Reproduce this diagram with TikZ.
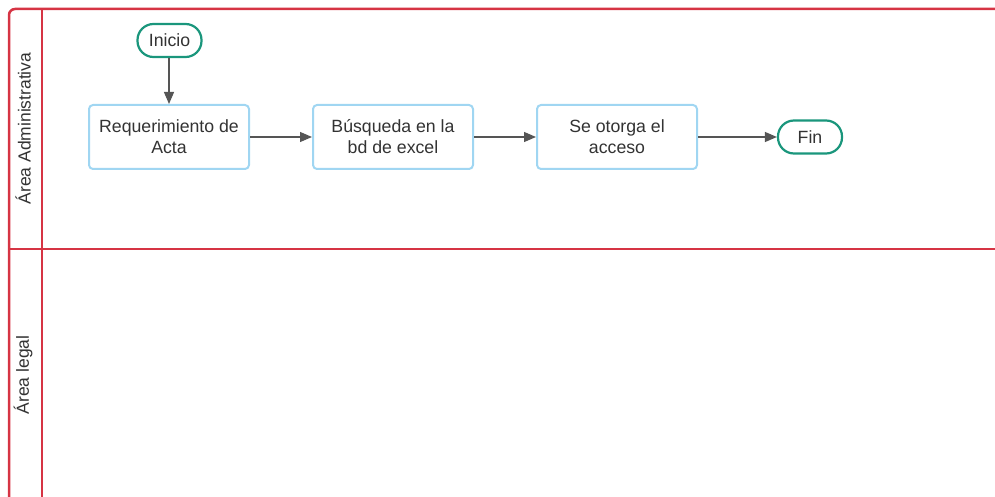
\documentclass[tikz,border=0pt]{standalone}
\usepackage{fontspec}
\setmainfont{Liberation Sans}
\usetikzlibrary{arrows.meta}
\definecolor{lanered}{RGB}{214,52,68}
\definecolor{boxblue}{RGB}{160,214,242}
\definecolor{termgreen}{RGB}{26,150,124}
\definecolor{txt}{RGB}{51,51,51}
\definecolor{arr}{RGB}{85,85,85}
\tikzset{
  procbox/.style={draw=boxblue, line width=2pt, rounded corners=4pt, fill=white,
    minimum width=160pt, minimum height=64pt, align=center, text=txt,
    font=\fontsize{17.7}{21}\selectfont, inner sep=0pt},
  term/.style={draw=termgreen, line width=2.2pt, rounded corners=16pt, fill=white,
    minimum width=64pt, minimum height=33pt, text=txt,
    font=\fontsize{17.7}{21}\selectfont, inner sep=0pt},
  flow/.style={draw=arr, line width=1.2pt, -{Triangle[length=12pt,width=10pt]}},
  lane/.style={draw=lanered, line width=2.5pt},
  lanelabel/.style={rotate=90, text=txt, font=\fontsize{17.5}{20}\selectfont}
}
\begin{document}
\begin{tikzpicture}[x=1pt,y=-1pt]
\useasboundingbox (0,0) rectangle (995,497);
% swimlane frame
\draw[lane, rounded corners=6pt] (9,500) -- (9,9) -- (1000,9);
\draw[lane] (42,9) -- (42,500);
\draw[lane] (9,249) -- (1000,249);
\node[lanelabel] (la) at (23,128.5) {Área Administrativa};
\node[lanelabel] (lb) at (23,375) {Área legal};
% nodes
\node[term] (ini) at (169.5,40.5) {Inicio};
\node[procbox] (req) at (169,137) {Requerimiento de\\Acta};
\node[procbox] (bus) at (393,137) {Búsqueda en la\\bd de excel};
\node[procbox] (oto) at (617,137) {Se otorga el\\acceso};
\node[term] (fin) at (810,137) {Fin};
% connectors
\draw[flow] (ini.south -| req.north) -- (req.north);
\draw[flow] (req) -- (bus);
\draw[flow] (bus) -- (oto);
\draw[flow] (oto) -- (fin);
\end{tikzpicture}
\end{document}
